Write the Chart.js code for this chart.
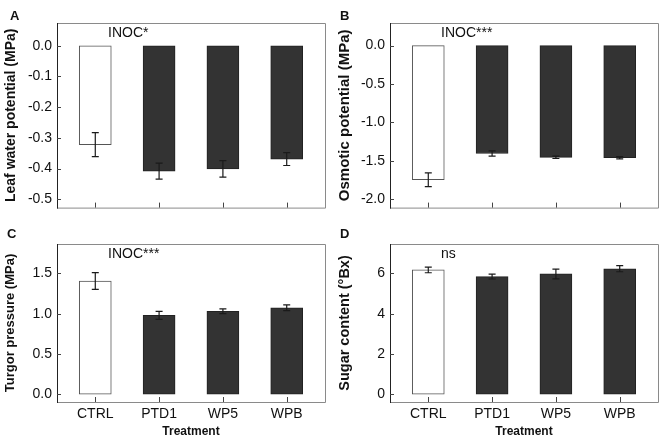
<!DOCTYPE html>
<html>
<head>
<meta charset="utf-8">
<script src="https://cdn.jsdelivr.net/npm/chart.js@4.4.1/dist/chart.umd.min.js"></script>
<style>
  html, body { margin: 0; padding: 0; background: #fff; }
  #wrap { position: relative; width: 666px; height: 442px; }
  #wrap canvas { position: absolute; }
</style>
</head>
<body>
<div id="wrap">
  <canvas id="cA" width="333" height="221" style="left:0;top:0"></canvas>
  <canvas id="cB" width="333" height="221" style="left:333px;top:0"></canvas>
  <canvas id="cC" width="333" height="221" style="left:0;top:221px"></canvas>
  <canvas id="cD" width="333" height="221" style="left:333px;top:221px"></canvas>
</div>
<script>
// Dados
const categorias = ['CTRL', 'PTD1', 'WP5', 'WPB'];

const potencialFolha = [-0.322, -0.408, -0.401, -0.369];
const potencialFolhaErro = [0.039, 0.026, 0.027, 0.021];

const potencialOsmotico = [-1.746, -1.404, -1.454, -1.458];
const potencialOsmoticoErro = [0.09, 0.035, 0.015, 0.015];

const turgor = [1.405, 0.979, 1.03, 1.073];
const turgorErro = [0.105, 0.05, 0.03, 0.035];

const acucar = [6.17, 5.84, 5.97, 6.23];
const acucarErro = [0.14, 0.12, 0.24, 0.15];

const ticksA = [0, -0.1, -0.2, -0.3, -0.4, -0.5];
const ticksB = [0, -0.5, -1.0, -1.5, -2.0];
const ticksC = [0, 0.5, 1.0, 1.5];
const ticksD = [0, 2, 4, 6];

const FONTE = "'Liberation Sans', Arial, sans-serif";
const corBarras = ['#ffffff', '#333333', '#333333', '#333333'];
const corBordas = ['#555555', '#222222', '#222222', '#222222'];

// Plugin: moldura, marcas internas, barras de erro, letra do painel e anotação
const extrasPlugin = {
  id: 'extras',
  afterDatasetsDraw(chart) {
    const o = chart.options.plugins.extras;
    const { ctx, chartArea: a, scales } = chart;
    const x = scales.x, y = scales.y;
    ctx.save();

    // barras de erro
    ctx.strokeStyle = '#1a1a1a';
    ctx.lineWidth = 1.2;
    o.valores.forEach((v, i) => {
      const px = x.getPixelForValue(i);
      const yt = y.getPixelForValue(v + o.erros[i]);
      const yb = y.getPixelForValue(v - o.erros[i]);
      ctx.beginPath();
      ctx.moveTo(px, yt); ctx.lineTo(px, yb);
      ctx.moveTo(px - 3.5, yt); ctx.lineTo(px + 3.5, yt);
      ctx.moveTo(px - 3.5, yb); ctx.lineTo(px + 3.5, yb);
      ctx.stroke();
    });

    // moldura
    ctx.lineWidth = 1;
    ctx.strokeStyle = '#8a8a8a';
    ctx.beginPath();
    ctx.moveTo(a.left, a.top + 0.5); ctx.lineTo(a.right + 0.5, a.top + 0.5);
    ctx.lineTo(a.right + 0.5, a.bottom + 0.5); ctx.lineTo(a.left, a.bottom + 0.5);
    ctx.stroke();
    ctx.strokeStyle = '#222';
    ctx.beginPath();
    ctx.moveTo(a.left + 0.5, a.top); ctx.lineTo(a.left + 0.5, a.bottom + 1);
    ctx.stroke();

    // marcas internas
    ctx.strokeStyle = '#444';
    ctx.beginPath();
    y.ticks.forEach(t => {
      const py = Math.round(y.getPixelForValue(t.value)) + 0.5;
      ctx.moveTo(a.left, py); ctx.lineTo(a.left + 4, py);
    });
    x.ticks.forEach(t => {
      const px = Math.round(x.getPixelForValue(t.value)) + 0.5;
      ctx.moveTo(px, a.bottom); ctx.lineTo(px, a.bottom - 5);
    });
    ctx.stroke();

    // textos
    ctx.fillStyle = '#111';
    ctx.textBaseline = 'alphabetic';
    ctx.textAlign = 'left';
    ctx.font = 'bold 13px ' + FONTE;
    ctx.fillText(o.letra, o.letraX, o.letraY);
    ctx.font = '14px ' + FONTE;
    ctx.fillText(o.nota, 108, 37);
    ctx.restore();
  }
};

function criarPainel(id, cfg) {
  const mostrarX = cfg.mostrarX;
  return new Chart(document.getElementById(id), {
    type: 'bar',
    data: {
      datasets: [{
        data: cfg.valores.map((v, i) => ({ x: i, y: v })),
        backgroundColor: corBarras,
        borderColor: corBordas,
        borderWidth: 1,
        borderSkipped: false,
        barThickness: 32
      }]
    },
    options: {
      responsive: false,
      animation: false,
      layout: { padding: { top: 23, right: 8, left: 0, bottom: mostrarX ? 0 : 4 } },
      plugins: {
        legend: { display: false },
        tooltip: { enabled: false },
        extras: {
          valores: cfg.valores, erros: cfg.erros,
          letra: cfg.letra, letraX: cfg.letraX, letraY: cfg.letraY, nota: cfg.nota
        }
      },
      scales: {
        x: {
          type: 'linear',
          offset: false,
          min: -0.6,
          max: 3.6,
          grid: { display: false, drawTicks: false },
          border: { display: false },
          afterBuildTicks: (s) => { s.ticks = categorias.map((c, i) => ({ value: i })); },
          afterFit: (s) => { s.height = mostrarX ? 40 : 0; },
          ticks: {
            display: mostrarX,
            padding: 4,
            color: '#111',
            font: { family: FONTE, size: 14 },
            callback: (v) => categorias[v]
          },
          title: {
            display: mostrarX,
            text: 'Treatment',
            color: '#111',
            font: { family: FONTE, size: 12, weight: 'bold' },
            padding: { top: 0, bottom: 3 }
          }
        },
        y: {
          min: cfg.min,
          max: cfg.max,
          grid: { display: false, drawTicks: false },
          border: { display: false },
          afterBuildTicks: (s) => { s.ticks = cfg.ticks.map(v => ({ value: v })); },
          afterFit: (s) => { s.width = 57; },
          ticks: {
            padding: 5,
            color: '#111',
            font: { family: FONTE, size: 14 },
            callback: (v) => v.toFixed(cfg.casas)
          },
          title: {
            display: true,
            text: cfg.titulo,
            color: '#111',
            font: { family: FONTE, size: cfg.tamTitulo, weight: 'bold' },
            padding: { top: 3, bottom: 0 }
          }
        }
      }
    },
    plugins: [extrasPlugin]
  });
}

criarPainel('cA', {
  valores: potencialFolha, erros: potencialFolhaErro, ticks: ticksA,
  min: -0.527, max: 0.074, casas: 1, titulo: 'Leaf water potential (MPa)', tamTitulo: 14,
  letra: 'A', letraX: 10, letraY: 20, nota: 'INOC*', mostrarX: false
});
criarPainel('cB', {
  valores: potencialOsmotico, erros: potencialOsmoticoErro, ticks: ticksB,
  min: -2.108, max: 0.294, casas: 1, titulo: 'Osmotic potential (MPa)', tamTitulo: 15,
  letra: 'B', letraX: 7, letraY: 20, nota: 'INOC***', mostrarX: false
});
criarPainel('cC', {
  valores: turgor, erros: turgorErro, ticks: ticksC,
  min: -0.096, max: 1.864, casas: 1, titulo: 'Turgor pressure (MPa)', tamTitulo: 13,
  letra: 'C', letraX: 7, letraY: 17, nota: 'INOC***', mostrarX: true
});
criarPainel('cD', {
  valores: acucar, erros: acucarErro, ticks: ticksD,
  min: -0.383, max: 7.456, casas: 0, titulo: 'Sugar content (\u00b0Bx)', tamTitulo: 14.5,
  letra: 'D', letraX: 7, letraY: 17, nota: 'ns', mostrarX: true
});
</script>
</body>
</html>
